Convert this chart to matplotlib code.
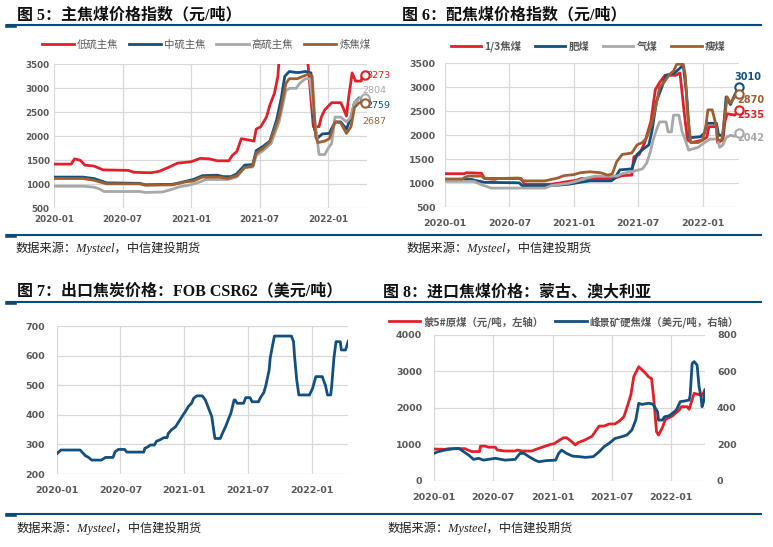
import matplotlib
matplotlib.use("Agg")
import matplotlib.pyplot as plt
from matplotlib.lines import Line2D

plt.rcParams['font.family'] = ['DejaVu Sans', 'Noto Sans CJK SC']

# x values are months since 2020-01
TICK_POS = [0, 6, 12, 18, 24]
TICK_LAB = ['2020-01', '2020-07', '2021-01', '2021-07', '2022-01']

# fig 5: 主焦煤价格指数
m5_low = [0, 1.5, 1.8, 2.3, 2.7, 3.5, 4.3, 6.5, 7.0, 8.5, 9.2, 10.0, 10.8, 12.0, 12.8, 13.6, 14.3, 15.3, 15.6, 16.0,
          16.4, 17.1, 17.5, 17.7, 18.1, 18.6, 18.9, 19.3, 19.6, 19.8, 22.0, 22.2, 22.7, 23.2, 23.4, 23.7, 24.3, 25.1,
          25.3, 25.6, 25.8, 26.1, 26.4, 26.9, 27.0, 27.2]
v5_low = [1420, 1420, 1530, 1500, 1400, 1380, 1300, 1290, 1250, 1240, 1270, 1350, 1440, 1470, 1540, 1530, 1490, 1490,
          1600, 1680, 1950, 1920, 1900, 2150, 2200, 2400, 2650, 2900, 3250, 3900, 3900, 3600, 2200, 2200, 2400, 2550,
          2700, 2700, 2600, 2420, 2820, 3320, 3150, 3150, 3300, 3273]
m5_mid = [0, 2.5, 3.5, 4.0, 4.6, 7.5, 8.0, 10.4, 11.5, 12.2, 13.0, 14.3, 14.8, 15.5, 16.0, 16.7, 17.4, 17.7, 18.3, 18.9,
          19.5, 19.9, 20.2, 20.6, 21.2, 21.5, 22.0, 22.5, 22.8, 23.1, 23.5, 24.1, 24.6, 25.1, 25.6, 26.0, 26.3, 26.7, 27.2]
v5_mid = [1150, 1150, 1120, 1080, 1030, 1020, 990, 1000, 1060, 1100, 1180, 1190, 1160, 1160, 1220, 1400, 1410, 1700,
          1790, 1900, 2350, 2800, 3250, 3350, 3330, 3330, 3350, 3320, 2150, 1970, 2050, 2060, 2300, 2300, 2150, 2400,
          2700, 2800, 2759]
m5_high = [0, 2.6, 3.5, 4.0, 4.4, 7.5, 8.0, 9.5, 10.4, 11.0, 11.8, 12.8, 13.3, 15.2, 16.0, 16.7, 17.4, 17.7, 18.3, 19.0,
           19.7, 20.3, 20.6, 21.2, 21.5, 22.0, 22.4, 22.8, 23.2, 23.7, 24.0, 24.3, 24.6, 25.1, 25.6, 26.0, 26.3, 26.8,
           27.2]
v5_high = [960, 960, 940, 900, 850, 850, 830, 840, 900, 950, 980, 1050, 1100, 1100, 1150, 1350, 1360, 1600, 1700, 1850,
           2300, 2950, 3000, 3000, 3100, 3200, 3200, 2400, 1620, 1620, 1750, 1850, 2400, 2400, 2300, 2400, 2700, 2800,
           2804]
m5_coke = [0, 2.5, 3.4, 4.0, 4.6, 7.5, 8.0, 10.4, 11.5, 12.2, 13.0, 14.5, 15.2, 16.0, 16.7, 17.4, 17.7, 18.3, 18.9,
           19.7, 20.3, 20.6, 21.3, 21.8, 22.3, 22.6, 22.9, 23.1, 23.7, 24.1, 24.6, 25.1, 25.6, 26.0, 26.3, 26.7, 27.2]
v5_coke = [1120, 1120, 1090, 1050, 1010, 1010, 980, 990, 1050, 1070, 1150, 1150, 1120, 1180, 1350, 1380, 1650, 1750,
           1880, 2400, 3100, 3200, 3200, 3250, 3300, 3250, 2000, 1870, 1900, 1950, 2300, 2280, 2060, 2200, 2600, 2700,
           2687]

# fig 6: 配焦煤价格指数
m6_r = [0, 1.8, 2.0, 3.4, 3.7, 7.1, 7.4, 9.9, 10.5, 11.5, 12.2, 12.7, 15.5, 16.0, 16.5, 17.4, 17.6, 18.1, 18.6, 19.2,
        19.6, 20.0, 20.5, 21.5, 21.9, 22.3, 22.6, 23.0, 24.0, 24.4, 24.6, 25.3, 25.4, 25.9, 26.1, 26.3, 27.0, 27.4]
v6_r = [1200, 1200, 1220, 1210, 1100, 1100, 980, 980, 1000, 1040, 1060, 1100, 1100, 1120, 1160, 1170, 1550, 1600, 1840,
        2300, 2950, 3100, 3250, 3250, 3300, 2460, 1900, 1850, 1900, 1960, 2180, 2180, 1850, 1900, 2300, 2450, 2420, 2535]
m6_b = [0, 2.5, 2.8, 3.7, 6.9, 7.2, 9.5, 10.5, 11.5, 12.6, 13.5, 15.5, 15.8, 16.3, 17.4, 17.9, 18.4, 19.0, 19.3, 19.7,
        20.2, 20.6, 21.4, 21.9, 22.2, 22.5, 22.8, 23.8, 24.2, 24.4, 25.3, 25.5, 25.9, 26.2, 26.6, 27.0, 27.4]
v6_b = [1080, 1080, 1060, 1020, 1010, 950, 950, 960, 980, 1020, 1050, 1050, 1100, 1280, 1300, 1600, 1700, 1800, 2100,
        2700, 3000, 3250, 3300, 3400, 3460, 2900, 1950, 1970, 2050, 2250, 2250, 2000, 2000, 2800, 2640, 2840, 3010]
m6_g = [0, 2.7, 3.4, 4.3, 9.3, 9.9, 11.5, 12.4, 13.0, 14.0, 16.0, 16.5, 17.5, 18.4, 18.8, 19.1, 19.4, 19.7, 20.0, 20.6,
        20.8, 21.1, 21.3, 21.8, 22.1, 22.4, 22.7, 23.6, 24.2, 24.7, 25.4, 25.6, 25.9, 26.2, 26.6, 27.0, 27.4]
v6_g = [1040, 1040, 970, 900, 900, 950, 1000, 1050, 1100, 1150, 1150, 1200, 1250, 1300, 1420, 1630, 1900, 2110, 2280,
        2280, 2070, 2070, 2420, 2420, 2070, 1900, 1690, 1750, 1850, 1920, 1920, 1750, 1800, 1950, 2000, 1980, 2042]
m6_s = [0, 1.6, 1.9, 2.2, 3.4, 3.7, 4.6, 5.0, 6.9, 7.2, 9.3, 9.9, 10.5, 11.1, 12.0, 12.6, 13.5, 14.5, 15.2, 15.6, 16.0,
        16.5, 17.4, 17.9, 18.4, 18.8, 19.2, 19.6, 20.0, 20.4, 20.9, 21.3, 21.6, 22.2, 22.4, 22.6, 22.9, 23.6, 24.0,
        24.3, 24.5, 24.9, 25.3, 25.4, 25.8, 26.0, 26.3, 26.6, 27.0, 27.4]
v6_s = [1090, 1090, 1130, 1150, 1150, 1100, 1080, 1100, 1110, 1050, 1050, 1080, 1110, 1160, 1180, 1220, 1240, 1220,
        1170, 1200, 1450, 1600, 1630, 1800, 1850, 1950, 2200, 2550, 3000, 3100, 3260, 3340, 3480, 3480, 3250, 2460,
        1850, 1850, 1900, 2170, 2530, 2530, 2180, 1900, 1900, 2250, 2800, 2670, 2800, 2870]

# fig 7: FOB CSR62
m7 = [0, 0.4, 2.2, 2.7, 3.0, 3.3, 4.2, 4.6, 5.3, 5.5, 5.8, 6.4, 6.6, 8.2, 8.3, 8.6, 8.8, 9.2, 9.4, 9.7, 10.1, 10.4,
      10.5, 10.8, 11.2, 11.5, 11.8, 12.1, 12.4, 12.7, 12.9, 13.2, 13.7, 14.0, 14.3, 14.6, 14.8, 14.9, 15.4, 15.6, 15.9,
      16.2, 16.4, 16.7, 16.8, 17.0, 17.6, 17.8, 18.2, 18.4, 19.0, 19.2, 19.5, 19.7, 20.0, 20.1, 20.3, 20.5, 22.1,
      22.3, 22.4, 22.6, 22.8, 23.8, 24.1, 24.4, 25.0, 25.3, 25.5, 25.8, 25.9, 26.1, 26.3, 26.7, 26.8, 27.2, 27.45]
v7 = [268, 281, 281, 262, 256, 247, 247, 256, 256, 275, 283, 283, 274, 274, 287, 292, 298, 298, 311, 315, 323, 323,
      337, 349, 360, 377, 394, 410, 428, 439, 456, 464, 464, 450, 422, 394, 343, 320, 320, 337, 360, 388, 405, 450,
      450, 439, 439, 458, 458, 444, 444, 459, 475, 500, 551, 591, 630, 666, 666, 647, 596, 518, 467, 467, 490, 529,
      529, 500, 467, 467, 500, 591, 647, 647, 619, 619, 649]

# fig 8: 蒙5#原煤 (元/吨, left), 峰景矿硬焦煤 (美元/吨, right)
m8_r = [0, 1.1, 1.5, 3.1, 3.8, 4.6, 4.7, 5.2, 5.5, 6.2, 6.4, 7.2, 8.2, 8.4, 8.9, 9.9, 10.2, 11.1, 11.8, 12.1, 12.6,
        13.1, 13.4, 13.8, 14.3, 14.6, 15.1, 15.5, 16.0, 16.3, 16.7, 17.2, 17.7, 18.3, 18.8, 19.2, 19.5, 19.9, 20.2,
        20.7, 21.0, 21.4, 21.7, 22.0, 22.2, 22.5, 22.7, 23.1, 23.4, 24.1, 24.4, 24.8, 25.0, 25.6, 25.8, 25.9, 26.3,
        26.6, 27.1, 27.4]
v8_r = [870, 860, 880, 880, 800, 800, 950, 950, 920, 920, 842, 815, 815, 842, 815, 815, 850, 934, 998, 1010, 1098,
        1180, 1180, 1100, 980, 1050, 1100, 1150, 1226, 1350, 1500, 1500, 1556, 1560, 1650, 1757, 2000, 2352, 2856,
        3130, 3050, 2947, 2850, 2800, 2307, 1345, 1254, 1464, 1684, 1776, 1850, 1940, 2032, 2032, 1959, 2050, 2398,
        2380, 2343, 2490]
m8_b = [0, 0.4, 1.1, 1.8, 2.5, 3.0, 3.5, 4.0, 4.5, 5.0, 6.2, 7.2, 8.2, 8.7, 9.1, 9.6, 10.2, 10.6, 11.3, 12.3, 12.6,
        12.9, 13.4, 14.0, 14.7, 15.3, 16.1, 16.7, 17.2, 17.7, 18.3, 19.0, 19.5, 20.0, 20.4, 20.7, 21.0, 21.7, 22.1,
        22.3, 22.6, 22.7, 23.1, 23.3, 23.8, 24.1, 24.5, 24.9, 25.4, 25.8, 25.9, 26.1, 26.3, 26.6, 26.8, 27.0, 27.1,
        27.3, 27.4]
v8_b = [150, 159, 168, 174, 178, 159, 141, 117, 123, 113, 123, 113, 117, 150, 150, 132, 113, 104, 110, 113, 150, 168,
        150, 135, 132, 128, 132, 159, 187, 205, 232, 242, 251, 278, 333, 425, 419, 425, 421, 406, 379, 333, 333, 351,
        357, 370, 388, 434, 438, 443, 470, 644, 654, 635, 516, 461, 406, 443, 498]

RED = '#E2202A'
BLUE = '#13507F'
GRAY = '#A8A8A8'
BROWN = '#9E6033'
NAVY = '#0C4A7A'
GRID = '#D9D9D9'
TXT = '#595959'
CJK = ['Noto Sans CJK SC', 'DejaVu Sans']
SERIF = ['Liberation Serif', 'Noto Sans CJK SC']
SOURCE = '数据来源：Mysteel，中信建投期货'

W, H = 773, 547
fig = plt.figure(figsize=(W / 100, H / 100), dpi=100)


def box(l, t, r, b):
    return [l / W, 1 - b / H, (r - l) / W, (b - t) / H]


def style_axes(ax, yticks, xpad, ypad, size=6.8):
    ax.set_xlim(0, 27.4)
    ax.set_ylim(yticks[0], yticks[-1])
    ax.set_xticks(TICK_POS, labels=TICK_LAB, fontweight='bold')
    ax.set_yticks(yticks, labels=[str(v) for v in yticks], fontweight='bold')
    ax.grid(True, color=GRID, lw=0.9)
    ax.set_axisbelow(True)
    for s in ax.spines.values():
        s.set_visible(False)
    ax.tick_params(length=0, labelsize=size, labelcolor=TXT)
    ax.tick_params(axis='x', pad=xpad)
    ax.tick_params(axis='y', pad=ypad)


def rules(x0, x1, ys):
    for y in ys:
        fig.add_artist(Line2D([x0 / W, x1 / W], [1 - y / H] * 2, color=NAVY, lw=1.5))
        fig.add_artist(Line2D([x0 / W, (x0 + 8) / W], [1 - (y + 1) / H] * 2, color=NAVY, lw=2.6))


def heading(x, y, title):
    fig.text(x / W, 1 - y / H, title, fontsize=11.5, fontweight='bold', family=SERIF, va='center',
             color='#111111')


def source(x, y):
    fig.text(x / W, 1 - y / H, SOURCE, fontsize=8.8, style='italic', family=SERIF, va='center', color='#222222')


# ---- fig 5 ----
ax1 = fig.add_axes(box(54, 64.3, 367, 208.3))
series5 = [(m5_low, v5_low, RED, '低硫主焦'), (m5_mid, v5_mid, BLUE, '中硫主焦'),
           (m5_high, v5_high, GRAY, '高硫主焦'), (m5_coke, v5_coke, BROWN, '炼焦煤')]
h1 = []
for m, v, c, lab in series5:
    ln, = ax1.plot(m, v, color=c, lw=2.0, label=lab)
    ax1.plot(m[-1], v[-1], 'o', ms=6, mfc='white', mec=c, mew=1.5, clip_on=False, zorder=5)
    h1.append(ln)
style_axes(ax1, [500, 1000, 1500, 2000, 2500, 3000, 3500], 5, 3, size=6.3)
for txt, x, y, c in [('3273', 27.3, 3273, RED), ('2804', 27.0, 2950, GRAY),
                     ('2759', 27.3, 2650, BLUE), ('2687', 27.0, 2300, BROWN)]:
    ax1.text(x, y, txt, color=c, fontsize=6.8, va='center', ha='left', clip_on=False)
ax1.legend(handles=h1, loc='center', bbox_to_anchor=(206 / W, 1 - 45 / H), bbox_transform=fig.transFigure,
           ncol=4, frameon=False, handlelength=3.1, handletextpad=0.3, columnspacing=1.0, labelcolor=TXT,
           prop={'family': CJK, 'size': 7.5})
rules(7, 761, [25, 235])
heading(17, 15, '图 5：主焦煤价格指数（元/吨）')
source(16, 248)

# ---- fig 6 ----
ax2 = fig.add_axes(box(445, 63.3, 739, 207.3))
series6 = [(m6_r, v6_r, RED, '1/3焦煤'), (m6_b, v6_b, BLUE, '肥煤'),
           (m6_g, v6_g, GRAY, '气煤'), (m6_s, v6_s, BROWN, '瘦煤')]
h2 = []
for m, v, c, lab in series6:
    ln, = ax2.plot(m, v, color=c, lw=2.0, label=lab)
    ax2.plot(m[-1], v[-1], 'o', ms=6, mfc='white', mec=c, mew=1.5, clip_on=False, zorder=5)
    h2.append(ln)
style_axes(ax2, [500, 1000, 1500, 2000, 2500, 3000, 3500], 8.5, 7)
for txt, x, y, c in [('3010', 27.0, 3220, BLUE), ('2870', 27.2, 2735, BROWN),
                     ('2535', 27.2, 2420, RED), ('2042', 27.2, 1945, GRAY)]:
    ax2.text(x, y, txt, color=c, fontsize=7, fontweight='bold', va='center', ha='left', clip_on=False)
ax2.legend(handles=h2, loc='center', bbox_to_anchor=(588 / W, 1 - 46.5 / H), bbox_transform=fig.transFigure,
           ncol=4, frameon=False, handlelength=2.9, handletextpad=0.3, columnspacing=1.35, labelcolor=TXT,
           prop={'family': CJK, 'size': 7.5, 'weight': 'bold'})
heading(402, 15, '图 6：配焦煤价格指数（元/吨）')
source(407, 248)

# ---- fig 7 ----
ax3 = fig.add_axes(box(56.7, 326, 347.7, 474))
ax3.plot(m7, v7, color=BLUE, lw=2.0)
style_axes(ax3, [200, 300, 400, 500, 600, 700], 8.5, 8.4)
rules(7, 761, [302, 513.5])
heading(17, 291, '图 7：出口焦炭价格：FOB CSR62（美元/吨）')
source(17, 528)

# ---- fig 8 ----
ax4 = fig.add_axes(box(434, 335, 705, 480.7))
l_r, = ax4.plot(m8_r, v8_r, color=RED, lw=2.0, label='蒙5#原煤（元/吨，左轴）')
style_axes(ax4, [0, 1000, 2000, 3000, 4000], 8.5, 8.6)
ax4r = ax4.twinx()
l_b, = ax4r.plot(m8_b, v8_b, color=BLUE, lw=2.0, label='峰景矿硬焦煤（美元/吨，右轴）')
ax4r.set_ylim(0, 800)
r_ticks = [0, 200, 400, 600, 800]
ax4r.set_yticks(r_ticks, labels=[str(v) for v in r_ticks], fontweight='bold')
for s in ax4r.spines.values():
    s.set_visible(False)
ax4r.tick_params(length=0, labelsize=6.8, labelcolor=TXT, pad=8.6)
ax4.legend(handles=[l_r, l_b], loc='center', bbox_to_anchor=(564 / W, 1 - 321.7 / H),
           bbox_transform=fig.transFigure, ncol=2, frameon=False, handlelength=3.0, handletextpad=0.3,
           columnspacing=1.15, labelcolor=TXT, prop={'family': CJK, 'size': 7.5, 'weight': 'bold'})
heading(383, 292, '图 8：进口焦煤价格：蒙古、澳大利亚')
source(388, 528)

fig.savefig('out.png', dpi=100)
